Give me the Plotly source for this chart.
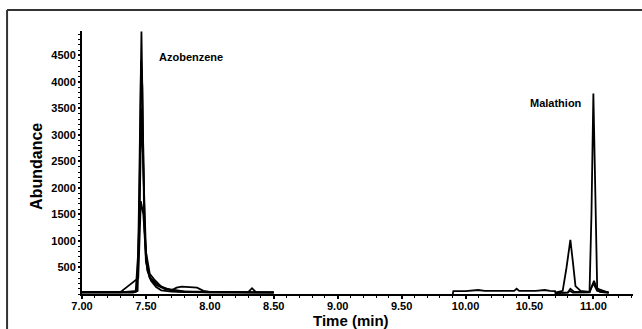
import plotly.graph_objects as go

# ---- data (time in min, abundance) ----
a1_t = [7.00, 7.20, 7.42, 7.44, 7.455, 7.465, 7.475, 7.49, 7.51, 7.54, 7.58, 7.62, 7.70, 7.80, 8.00, 8.20, 8.50]
a1_y = [40, 40, 40, 800, 3600, 4950, 3300, 1200, 450, 250, 130, 70, 45, 35, 30, 30, 30]

a2_t = [7.00, 7.30, 7.43, 7.45, 7.465, 7.48, 7.50, 7.53, 7.57, 7.62, 7.70, 7.74, 7.78, 7.90, 7.95, 8.00, 8.30, 8.33, 8.36, 8.50]
a2_y = [30, 30, 60, 1500, 3500, 2200, 800, 380, 260, 140, 70, 120, 140, 120, 60, 40, 35, 110, 35, 30]

a3_t = [7.00, 7.30, 7.44, 7.46, 7.48, 7.50, 7.53, 7.58, 7.65, 7.72, 7.80, 8.00, 8.50]
a3_y = [35, 35, 300, 1750, 1500, 700, 320, 200, 100, 70, 50, 40, 30]

a4_t = [7.00, 7.40, 7.435, 7.45, 7.462, 7.472, 7.485, 7.50, 7.53, 7.58, 7.65, 7.75, 8.00, 8.50]
a4_y = [25, 25, 60, 1800, 4400, 3900, 1600, 600, 300, 170, 90, 50, 30, 25]

b1_t = [9.90, 9.905, 10.00, 10.05, 10.10, 10.15, 10.30, 10.38, 10.40, 10.42, 10.55, 10.62, 10.66, 10.70, 10.705]
b1_y = [0, 55, 55, 70, 75, 60, 55, 60, 100, 60, 60, 75, 60, 55, 0]

b2_t = [10.70, 10.76, 10.79, 10.82, 10.84, 10.86, 10.90, 10.97, 11.00, 11.03, 11.10, 11.12]
b2_y = [25, 60, 500, 1020, 600, 150, 60, 40, 200, 60, 40, 25]

b3_t = [10.70, 10.80, 10.82, 10.85, 10.97, 10.985, 11.00, 11.015, 11.03, 11.10, 11.12]
b3_y = [20, 30, 100, 40, 40, 1500, 3780, 1500, 100, 40, 30]

b4_t = [10.70, 10.80, 10.815, 10.84, 10.97, 10.99, 11.005, 11.02, 11.05, 11.12]
b4_y = [15, 25, 60, 25, 30, 150, 250, 150, 40, 20]

y_ticks = [500, 1000, 1500, 2000, 2500, 3000, 3500, 4000, 4500]
x_ticks = [7.0, 7.5, 8.0, 8.5, 9.0, 9.5, 10.0, 10.5, 11.0]

traces = [(a1_t, a1_y), (a2_t, a2_y), (a3_t, a3_y), (a4_t, a4_y),
          (b1_t, b1_y), (b2_t, b2_y), (b3_t, b3_y), (b4_t, b4_y)]

fig = go.Figure()
for t, y in traces:
    fig.add_trace(go.Scatter(x=t, y=y, mode="lines",
                             line=dict(color="black", width=1.8),
                             showlegend=False, hoverinfo="skip"))

font_family = "Liberation Sans, Arial, sans-serif"
bold = dict(family=font_family, weight="bold", color="black")

fig.update_layout(
    width=642, height=329,
    margin=dict(l=82, r=9, t=31, b=35),
    paper_bgcolor="white", plot_bgcolor="white",
    showlegend=False,
    font=dict(family=font_family, color="black"),
    xaxis=dict(range=[7.0, 11.31], tickvals=x_ticks, tickformat=".2f",
               showgrid=False, zeroline=False, showline=True,
               linecolor="black", linewidth=2,
               ticks="outside", ticklen=3, tickwidth=1.5, tickcolor="black",
               ticklabelstandoff=-2,
               minor=dict(dtick=0.1, tick0=7.0, ticks="outside", ticklen=2,
                          tickwidth=1.2, tickcolor="black"),
               tickfont=dict(size=11, **bold)),
    yaxis=dict(range=[0, 4960], tickvals=y_ticks, tickformat="d",
               showgrid=False, zeroline=False, showline=True,
               linecolor="black", linewidth=2,
               ticks="outside", ticklen=2, tickwidth=1.5, tickcolor="black",
               minor=dict(dtick=100, tick0=0, ticks="outside", ticklen=2,
                          tickwidth=1, tickcolor="black"),
               tickfont=dict(size=11, **bold)),
)

# axis titles
fig.add_annotation(text="Abundance", xref="paper", yref="paper",
                   x=-0.0817, y=0.487, xanchor="center", yanchor="middle",
                   showarrow=False, textangle=-90,
                   font=dict(size=16, **bold))
fig.add_annotation(text="Time (min)", xref="paper", yref="paper",
                   x=0.488, y=-0.1, xanchor="center", yanchor="middle",
                   showarrow=False,
                   font=dict(size=15, **bold))

# peak labels
fig.add_annotation(text="Azobenzene", x=7.587, y=4472, xanchor="left",
                   yanchor="middle", showarrow=False,
                   font=dict(size=11, **bold))
fig.add_annotation(text="Malathion", x=10.49, y=3604, xanchor="left",
                   yanchor="middle", showarrow=False,
                   font=dict(size=11, **bold))

# outer frame (left and top edges)
fig.add_shape(type="line", xref="paper", yref="paper",
              x0=-0.136, x1=-0.136, y0=-0.14, y1=1.08,
              line=dict(color="#333333", width=2))
fig.add_shape(type="line", xref="paper", yref="paper",
              x0=-0.136, x1=1.02, y0=1.08, y1=1.08,
              line=dict(color="#333333", width=2))

fig.write_html("out.html")
